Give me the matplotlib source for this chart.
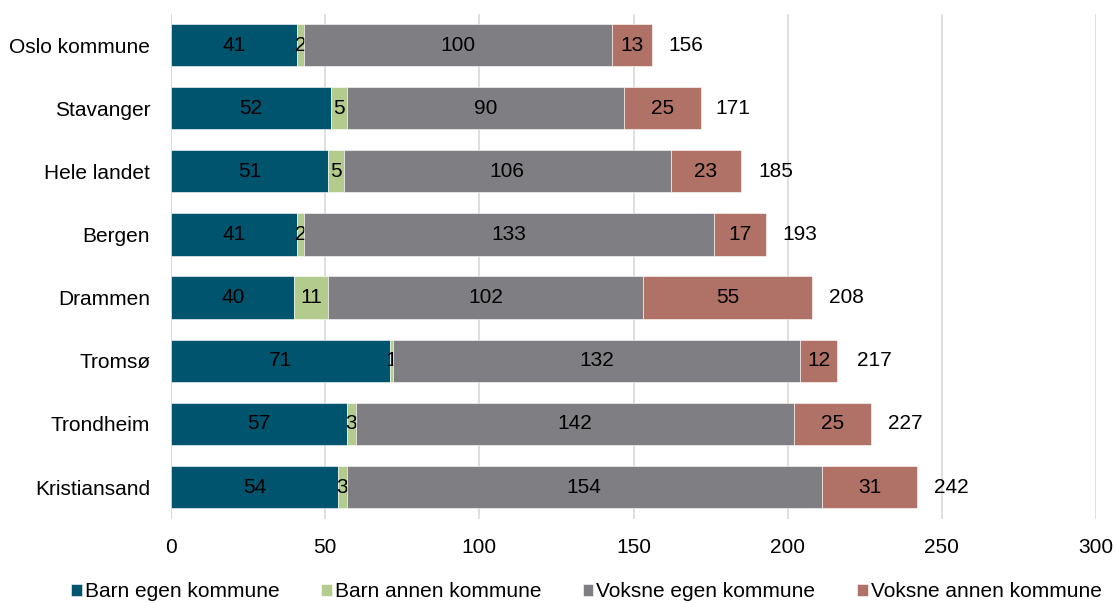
import matplotlib as mpl
import matplotlib.pyplot as plt
import numpy as np

mpl.rcParams['font.family'] = ['Liberation Sans', 'DejaVu Sans']

# Data
kommuner = ["Oslo kommune", "Stavanger", "Hele landet", "Bergen",
            "Drammen", "Tromsø", "Trondheim", "Kristiansand"]
barn_egen = [41, 52, 51, 41, 40, 71, 57, 54]
barn_annen = [2, 5, 5, 2, 11, 1, 3, 3]
voksne_egen = [100, 90, 106, 133, 102, 132, 142, 154]
voksne_annen = [13, 25, 23, 17, 55, 12, 25, 31]
totals = [156, 171, 185, 193, 208, 217, 227, 242]

series_names = ["Barn egen kommune", "Barn annen kommune",
                "Voksne egen kommune", "Voksne annen kommune"]
colors = ["#00546e", "#b3cc8e", "#7f7e83", "#b07166"]

fs = 15

fig, ax = plt.subplots(figsize=(11.15, 6.03), dpi=100)
fig.subplots_adjust(left=0.1534, right=0.983, bottom=0.140, top=0.9776)

y = np.arange(len(kommuner))
left = np.zeros(len(kommuner))
for vals, name, col in zip([barn_egen, barn_annen, voksne_egen, voksne_annen],
                           series_names, colors):
    bars = ax.barh(y, vals, left=left, height=0.67, color=col, label=name,
                   edgecolor="white", linewidth=0.4, zorder=3)
    ax.bar_label(bars, labels=[str(v) for v in vals], label_type="center",
                 fontsize=fs, color="black")
    left += np.array(vals)

#Totals next to bars
for yi, t in zip(y, totals):
    ax.annotate(str(t), (t, yi), xytext=(12, 0), textcoords="offset points",
                va="center", ha="left", fontsize=fs)

#Axes
ax.set_ylim(len(kommuner) - 0.5, -0.5)
ax.set_xlim(0, 300)
ax.set_xticks(range(0, 301, 50))
ax.set_yticks(y)
ax.set_yticklabels(kommuner)
ax.tick_params(length=0, labelsize=fs)
ax.tick_params(axis="x", pad=14)
ax.tick_params(axis="y", pad=15)
ax.grid(axis="x", color="#d9d9d9", linewidth=1.2, zorder=0)
ax.set_axisbelow(True)
for name, spine in ax.spines.items():
    spine.set_visible(False)
ax.axvline(0, color="#d9d9d9", linewidth=1.2, zorder=1)

#Legend
fig.legend(loc="lower center", ncol=4, frameon=False, fontsize=fs,
           bbox_to_anchor=(0.526, -0.028), handlelength=0.5, handleheight=0.5,
           handletextpad=0.15, columnspacing=2.0)

fig.savefig("out.png", dpi=100)
